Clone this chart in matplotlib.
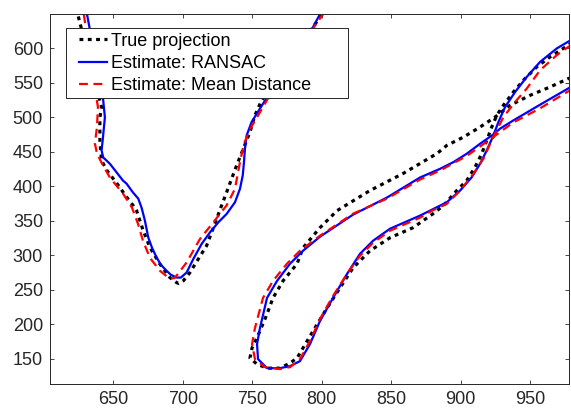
import numpy as np
import matplotlib.pyplot as plt
from matplotlib.patches import Rectangle

# ----- DATA -----
# left "V" branch
true_a_x = [623.1, 624.6, 641.6, 640.4, 640.4, 641.6, 645.5, 652.7, 659.9, 664.4, 666.8, 671.6,
            676.4, 683.6, 690.8, 695.6, 697.0, 700.4, 705.2, 711.2, 717.2, 720.8, 724.4, 728.0,
            731.6, 735.2, 738.8, 743.6, 748.4, 752.0, 756.8, 775.8, 793.8, 800.3, 806.0]
true_a_y = [670.3, 648.5, 514.6, 500.0, 466.5, 437.4, 422.8, 403.9, 383.6, 371.9, 364.6, 335.5,
            311.2, 287.0, 267.5, 260.2, 259.0, 262.7, 274.8, 294.3, 313.7, 333.0, 352.5, 372.2,
            391.3, 410.8, 430.1, 454.4, 478.6, 502.9, 524.7, 578.7, 631.0, 649.9, 670.3]

ransac_a_x = [629.6, 631.1, 642.8, 644.0, 642.4, 641.6, 642.8, 647.6, 657.0, 659.6, 664.2, 668.0,
              670.4, 672.8, 675.2, 677.9, 681.2, 684.3, 688.4, 691.5, 695.6, 698.7, 702.8, 707.6,
              713.6, 719.6, 725.6, 731.6, 737.6, 741.2, 743.2, 744.1, 744.8, 746.0, 749.6, 755.6,
              761.6, 775.8, 793.8, 798.8, 806.0]
ransac_a_y = [670.3, 649.9, 524.7, 500.0, 466.5, 452.0, 441.8, 432.6, 408.3, 403.8, 391.0, 382.1,
              369.0, 350.1, 325.8, 310.8, 296.7, 286.0, 277.3, 271.5, 267.5, 267.5, 274.8, 294.3,
              316.2, 333.0, 347.6, 359.8, 376.7, 396.2, 415.6, 435.0, 454.4, 473.8, 493.2, 512.7,
              532.0, 580.0, 631.0, 649.9, 670.3]

mean_a_x = [627.5, 628.9, 639.0, 638.3, 636.8, 638.3, 641.9, 647.6, 657.0, 663.5, 667.8, 671.4,
            676.4, 683.6, 690.8, 694.4, 699.2, 702.8, 712.4, 722.0, 731.6, 737.6, 741.2, 744.1,
            749.2, 756.4, 761.4, 775.8, 794.5, 801.0, 806.7]
mean_a_y = [670.3, 648.5, 514.6, 485.5, 462.1, 447.6, 433.0, 412.7, 389.4, 369.0, 345.7, 320.9,
            296.2, 277.3, 265.6, 267.1, 279.8, 289.4, 323.4, 347.6, 372.2, 396.2, 435.0, 462.1,
            485.5, 510.2, 527.7, 580.0, 631.0, 649.9, 670.3]

# right loop / S branch
true_b_x = [984.5, 977.6, 964.4, 954.8, 945.2, 938.0, 930.8, 926.0, 922.4, 918.8, 915.2, 910.4,
            904.4, 897.2, 887.6, 880.2, 865.8, 849.2, 834.8, 822.6, 813.2, 803.9, 793.8, 782.3,
            777.2, 770.0, 760.7, 753.5, 748.4, 749.9, 755.6, 760.7, 765.0, 772.2, 782.3, 786.6,
            798.8, 811.1, 834.8, 858.6, 883.1, 890.0, 902.0, 914.0, 924.8, 935.6, 950.0, 964.4,
            977.6, 986.0]
true_b_y = [615.0, 604.8, 587.8, 573.2, 553.9, 536.8, 517.5, 502.9, 485.9, 466.5, 447.2, 427.7,
            408.3, 393.7, 371.9, 360.2, 339.9, 325.3, 306.4, 281.6, 252.5, 223.4, 189.9, 150.6,
            143.4, 136.0, 136.0, 141.8, 150.6, 165.2, 189.9, 214.7, 238.0, 262.7, 287.5, 310.7,
            339.9, 364.6, 393.8, 418.5, 447.6, 459.2, 471.3, 485.9, 500.4, 517.5, 532.0, 544.1,
            556.3, 561.5]

ransac_b_x = [984.0, 979.3, 969.2, 957.2, 947.6, 939.2, 932.0, 927.2, 923.6, 918.8, 914.0, 908.0,
              899.6, 890.0, 870.8, 849.2, 837.0, 827.6, 818.3, 808.2, 798.8, 791.6, 784.4, 777.2,
              770.0, 760.7, 754.2, 753.5, 755.6, 760.7, 767.9, 777.2, 786.6, 798.8, 822.6, 847.0,
              870.8, 885.2, 894.8, 904.4, 914.0, 923.6, 928.4, 938.0, 952.4, 966.8, 979.3, 986.0]
ransac_b_y = [614.0, 612.1, 600.0, 580.5, 558.7, 536.8, 515.0, 493.2, 473.8, 452.0, 432.6, 413.1,
              393.7, 376.7, 357.4, 338.4, 320.9, 302.0, 272.9, 238.0, 204.5, 171.0, 146.2, 138.9,
              136.0, 136.0, 149.1, 171.0, 194.3, 238.0, 262.7, 287.5, 306.4, 326.8, 358.8, 383.6,
              412.7, 425.3, 435.0, 447.2, 461.7, 475.3, 483.6, 495.6, 512.7, 529.6, 544.1, 550.0]

mean_b_x = [984.5, 977.6, 969.2, 957.2, 947.6, 939.2, 930.8, 926.0, 921.2, 916.4, 909.2, 899.6,
            890.0, 879.5, 870.8, 849.2, 837.0, 827.6, 818.3, 808.2, 798.8, 791.6, 784.4, 777.2,
            770.0, 759.2, 752.0, 749.9, 752.0, 757.8, 765.0, 775.0, 784.4, 798.8, 822.6, 847.0,
            870.8, 885.2, 904.4, 923.6, 938.0, 957.2, 979.3, 986.0]
mean_b_y = [609.2, 602.4, 590.3, 568.4, 541.8, 522.3, 500.4, 481.1, 461.7, 439.9, 418.1, 393.7,
            374.4, 364.6, 354.4, 335.5, 318.0, 299.1, 272.9, 240.9, 207.4, 175.4, 149.1, 137.5,
            134.6, 137.5, 149.1, 171.0, 194.3, 238.0, 262.7, 287.5, 306.4, 328.2, 360.2, 382.1,
            409.8, 422.8, 444.0, 471.6, 492.7, 513.1, 540.0, 546.0]

labels = ['True projection', 'Estimate: RANSAC', 'Estimate: Mean Distance']
x_ticks = [650, 700, 750, 800, 850, 900, 950]
y_ticks = [150, 200, 250, 300, 350, 400, 450, 500, 550, 600]

# ----- PLOT -----
plt.rcParams['font.family'] = ['Liberation Sans', 'DejaVu Sans']
fig = plt.figure(figsize=(5.71, 4.09), dpi=100)
ax = fig.add_axes([50 / 571, 25 / 409, 519 / 571, 370 / 409])

dot = (0, (1.2, 1.4))
dash = (0, (4, 2.5))
ax.plot(true_a_x, true_a_y, color='k', lw=2.3, ls=dot, dash_capstyle='butt', label=labels[0])
ax.plot(ransac_a_x, ransac_a_y, color='b', lw=1.6, label=labels[1])
ax.plot(mean_a_x, mean_a_y, color='r', lw=1.6, ls=dash, label=labels[2])
ax.plot(true_b_x, true_b_y, color='k', lw=2.3, ls=dot, dash_capstyle='butt')
ax.plot(ransac_b_x, ransac_b_y, color='b', lw=1.6)
ax.plot(mean_b_x, mean_b_y, color='r', lw=1.6, ls=dash)

ax.set_xlim(604.5, 978)
ax.set_ylim(113, 650)
ax.set_xticks(x_ticks)
ax.set_yticks(y_ticks)
ax.tick_params(direction='in', length=3.2, width=0.6, colors='#262626', labelsize=13,
               top=True, right=True, labeltop=False, labelright=False, pad=5)
for s in ax.spines.values():
    s.set_color('#262626')
    s.set_linewidth(0.7)

# legend box like MATLAB (wider than its text)
ax.add_patch(Rectangle((0.0308, 0.7722), 0.5434, 0.1892, transform=ax.transAxes,
                       facecolor='white', edgecolor='#262626', lw=0.7, zorder=4))
leg = ax.legend(loc='upper left', bbox_to_anchor=(0.0559, 0.950), fontsize=13,
                frameon=False, handlelength=1.55, handletextpad=0.22, labelspacing=0.3,
                borderpad=0, borderaxespad=0)
leg.set_zorder(5)

fig.savefig('out.png', dpi=100)
